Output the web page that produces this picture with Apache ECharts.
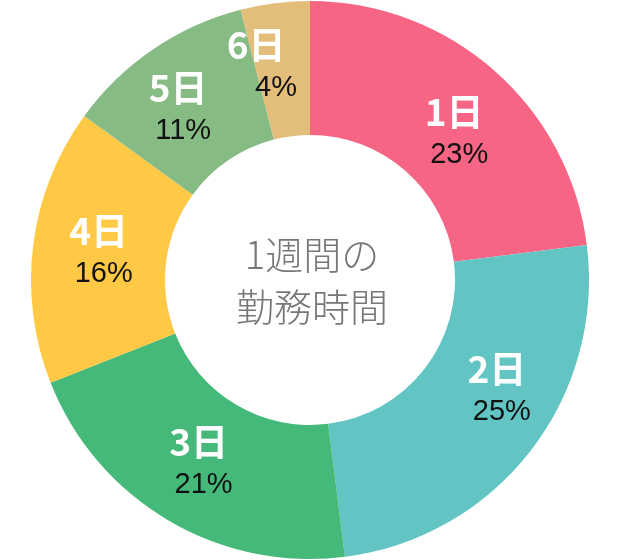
<!DOCTYPE html>
<html><head><meta charset="utf-8">
<script src="https://cdn.jsdelivr.net/npm/echarts@6/dist/echarts.min.js"></script>
<style>html,body{margin:0;padding:0;background:#fff}#c{width:620px;height:560px}</style>
</head><body><div id="c"></div>
<script>
const categories = ['1日','2日','3日','4日','5日','6日'];
const values = [23, 25, 21, 16, 11, 4];
const colors = ['#F76585','#62C5C4','#45B97A','#FFC845','#87BB84','#E3BD7A'];
const centerText = '1週間の\n勤務時間';
// label nudges (layout only)
const labelNudge = [[2,15],[17,-21],[-2,-2],[2,-1],[-11,7],[-27,0]];

const chart = echarts.init(document.getElementById('c'));
chart.setOption({
  animation: false,
  graphic: [{
    type: 'text',
    style: {
      text: centerText, x: 312, y: 281, align: 'center', verticalAlign: 'middle',
      fill: '#777', fontSize: 38, fontWeight: 300, fontFamily: 'Noto Sans CJK JP', lineHeight: 52
    }
  }],
  series: [{
    type: 'pie',
    center: [310, 280],
    radius: [145, 279],
    startAngle: 90,
    clockwise: true,
    silent: true,
    label: {
      position: 'inside',
      formatter: p => '{a|' + p.name + '}\n{' + (p.dataIndex === 5 ? 'c' : 'b') + '|' + p.value + '%}',
      rich: {
        a: { color: '#fff', fontSize: 37, fontWeight: 'bold', fontFamily: 'Noto Sans CJK JP', lineHeight: 43 },
        b: { color: '#111', fontSize: 29, fontFamily: 'Liberation Sans', lineHeight: 43, padding: [0,0,0,10] },
        c: { color: '#111', fontSize: 29, fontFamily: 'Liberation Sans', lineHeight: 43, padding: [0,0,0,40] }
      }
    },
    labelLayout: p => ({ dx: labelNudge[p.dataIndex][0], dy: labelNudge[p.dataIndex][1] }),
    labelLine: { show: false },
    data: categories.map((n, i) => ({ name: n, value: values[i], itemStyle: { color: colors[i] } }))
  }]
});
</script></body></html>
